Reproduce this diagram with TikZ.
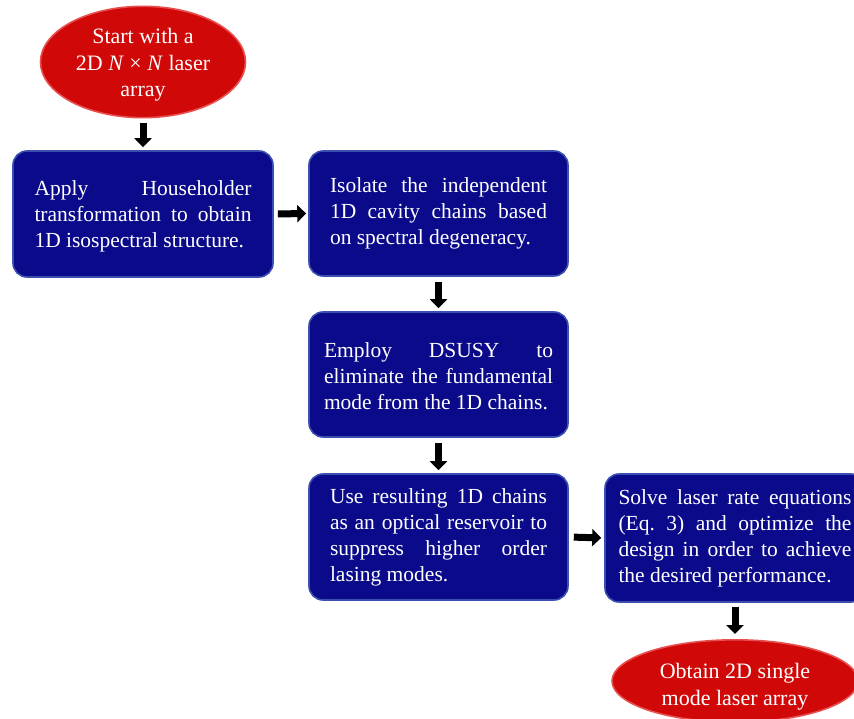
\documentclass[tikz,border=0pt]{standalone}
\usepackage{fontspec}
\setmainfont{Liberation Serif}
\usetikzlibrary{shapes.geometric,arrows.meta}
\definecolor{boxblue}{HTML}{0A0A8A}
\definecolor{boxedge}{HTML}{3A4FB0}
\definecolor{ovalred}{HTML}{D00808}
\definecolor{ovaledge}{HTML}{E85050}
\frenchspacing
\tikzset{
  stepbox/.style={rectangle, rounded corners=14pt, fill=boxblue, draw=boxedge, line width=1.6pt,
    minimum width=260pt, minimum height=126pt, text width=217pt, align=justify,
    text=white, font=\fontsize{21.5}{26}\selectfont, inner sep=0pt},
  oval/.style={ellipse, fill=ovalred, draw=ovaledge, line width=1.6pt, inner sep=0pt,
    text=white, align=center, font=\fontsize{22}{26.5}\selectfont},
  blockarrow/.style={line width=7pt, -{Triangle[width=17pt,length=9pt]}, black}
}
\begin{document}
\begin{tikzpicture}[x=1pt,y=-1pt]
\useasboundingbox (0,0) rectangle (854,719);
\node[oval, minimum width=205pt, minimum height=107pt] (start) at (143,62)
  {\rule{0pt}{21pt}Start with a\\2D \textit{N} × \textit{N} laser\\array};
\node[stepbox] (b1) at (143,214)
  {\rule{0pt}{20pt}Apply Householder\linebreak transformation to obtain\linebreak 1D isospectral structure.};
\node[stepbox, minimum width=259pt, minimum height=125pt] (b2) at (438.5,213.5)
  {Isolate the independent\linebreak 1D cavity chains based\linebreak on spectral degeneracy.};
\node[stepbox, minimum width=259pt, minimum height=125pt, text width=229pt] (b3) at (438.5,374.5)
  {\rule{0pt}{18pt}Employ DSUSY to\linebreak eliminate the fundamental\linebreak mode from the 1D chains.};
\node[stepbox, minimum width=259pt] (b4) at (438.5,537)
  {Use resulting 1D chains\linebreak as an optical reservoir to\linebreak suppress higher order\linebreak lasing modes.};
\node[stepbox, text width=233pt, minimum height=128pt] (b5) at (735,538)
  {Solve laser rate equations\linebreak (Eq. 3) and optimize the\linebreak design in order to achieve\linebreak the desired performance.};
\node[oval, minimum width=246pt, minimum height=82pt] (end) at (735,681)
  {\rule{0pt}{27pt}Obtain 2D single\\mode laser array};
\draw[blockarrow, shorten <=5pt, shorten >=3pt] (start.south) -- (b1.north);
\draw[blockarrow, shorten <=4pt, shorten >=2pt] (b1.east) -- (b2.west);
\draw[blockarrow, shorten <=5pt, shorten >=3pt] (b2.south) -- (b3.north);
\draw[blockarrow, shorten <=5pt, shorten >=3pt] (b3.south) -- (b4.north);
\draw[blockarrow, shorten <=5pt, shorten >=3pt] (b4.east) -- (b5.west);
\draw[blockarrow, shorten <=4pt, shorten >=5pt] (b5.south -| end) -- (end.north);
\end{tikzpicture}
\end{document}
